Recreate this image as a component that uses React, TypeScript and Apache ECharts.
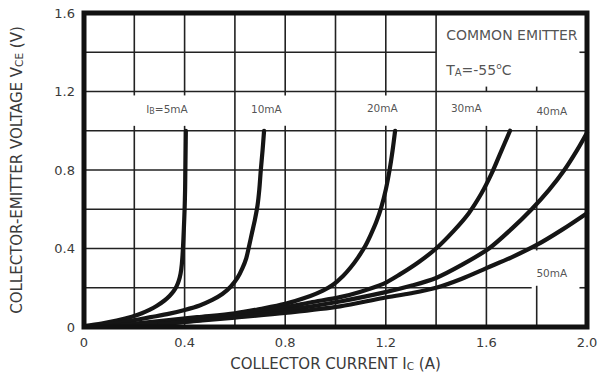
import React, { useEffect, useRef } from "react";
import * as echarts from "echarts";

// Collector current Ic (A) vs collector-emitter voltage Vce (V), one curve per base current
const curve5mA: [number, number][] = [
  [0, 0.005], [0.07, 0.018], [0.13, 0.033], [0.19, 0.052], [0.23, 0.07], [0.26, 0.087],
  [0.29, 0.108], [0.32, 0.135], [0.34, 0.158], [0.356, 0.182], [0.368, 0.207], [0.377, 0.236],
  [0.384, 0.272], [0.389, 0.32], [0.393, 0.39], [0.397, 0.5], [0.4, 0.6], [0.402, 0.7],
  [0.403, 0.8], [0.404, 0.9], [0.405, 1.0],
];
const curve10mA: [number, number][] = [
  [0.03, 0.003], [0.1, 0.015], [0.18, 0.03], [0.265, 0.05], [0.34, 0.068], [0.4, 0.087],
  [0.46, 0.11], [0.51, 0.138], [0.55, 0.168], [0.583, 0.205], [0.61, 0.25], [0.63, 0.3],
  [0.645, 0.35], [0.656, 0.41], [0.668, 0.48], [0.68, 0.55], [0.69, 0.62], [0.697, 0.7],
  [0.703, 0.8], [0.71, 0.9], [0.716, 1.0],
];
const curve20mA: [number, number][] = [
  [0.1, 0.004], [0.3, 0.03], [0.45, 0.05], [0.6, 0.07], [0.7, 0.092], [0.8, 0.118],
  [0.9, 0.158], [0.95, 0.185], [0.99, 0.215], [1.03, 0.26], [1.06, 0.303], [1.09, 0.355],
  [1.117, 0.41], [1.14, 0.47], [1.162, 0.535], [1.182, 0.61], [1.2, 0.7], [1.215, 0.8],
  [1.227, 0.9], [1.237, 1.0],
];
const curve30mA: [number, number][] = [
  [0.2, 0.008], [0.4, 0.035], [0.6, 0.065], [0.8, 0.1], [0.9, 0.125], [1.018, 0.152],
  [1.1, 0.18], [1.19, 0.22], [1.256, 0.268], [1.33, 0.33], [1.4, 0.4], [1.47, 0.49],
  [1.53, 0.58], [1.58, 0.68], [1.62, 0.78], [1.657, 0.89], [1.694, 1.0],
];
const curve40mA: [number, number][] = [
  [0.3, 0.012], [0.6, 0.055], [0.8, 0.085], [1.018, 0.13], [1.19, 0.175], [1.3, 0.21],
  [1.4, 0.25], [1.5, 0.315], [1.61, 0.4], [1.7, 0.5], [1.78, 0.6], [1.85, 0.7],
  [1.91, 0.8], [1.96, 0.9], [2.0, 0.99],
];
const curve50mA: [number, number][] = [
  [0.3, 0.015], [0.6, 0.048], [0.8, 0.072], [1.018, 0.105], [1.19, 0.148], [1.3, 0.172],
  [1.4, 0.2], [1.5, 0.245], [1.6, 0.3], [1.7, 0.355], [1.8, 0.418], [1.9, 0.495],
  [2.0, 0.58],
];

// Curve labels: [Ic, Vce, base-current text]
const curveLabels: [number, number, string][] = [
  [0.33, 1.11, "{t|I}{s|B}{t|=5mA}"],
  [0.725, 1.11, "{t|10mA}"],
  [1.186, 1.115, "{t|20mA}"],
  [1.52, 1.115, "{t|30mA}"],
  [1.86, 1.1, "{t|40mA}"],
  [1.86, 0.275, "{t|50mA}"],
];

// Condition notes in the upper right box
const noteLabels: [number, number, string][] = [
  [1.44, 1.488, "{n|COMMON EMITTER}"],
  [1.44, 1.31, "{n|T}{ns|A}{n|=-55}{sup|o}{n|C}"],
];

// Grid segments, broken where the labels sit
const verticalGrid: [number, number, number][] = [
  [0.2, 0, 1.025], [0.2, 1.18, 1.6],
  [0.4, 0, 1.025], [0.4, 1.18, 1.6],
  [0.6, 0, 1.6],
  [0.8, 0, 1.025], [0.8, 1.18, 1.6],
  [1.0, 0, 1.6],
  [1.2, 0, 1.025], [1.2, 1.18, 1.6],
  [1.4, 0, 1.6],
  [1.6, 0, 1.025], [1.6, 1.2, 1.225],
  [1.8, 0, 0.21], [1.8, 0.39, 1.025], [1.8, 1.2, 1.225],
];
const horizontalGrid: [number, number, number][] = [
  [0.2, 0, 1.78], [0.2, 1.97, 2.0],
  [0.4, 0, 2.0],
  [0.6, 0, 2.0],
  [0.8, 0, 2.0],
  [1.0, 0, 2.0],
  [1.2, 0, 2.0],
  [1.4, 0, 1.4], [1.4, 1.97, 2.0],
];

const FONT = "'DejaVu Sans', 'Liberation Sans', Arial, sans-serif";
const TEXT = "#3a3a3a";
const INK = "#262626";

export default function App() {
  const ref = useRef<HTMLDivElement>(null);

  useEffect(() => {
    if (!ref.current) return;
    const chart = echarts.init(ref.current, undefined, { renderer: "svg" });

    const segments = [
      ...verticalGrid.map(([x, a, b]) => [x, a, x, b]),
      ...horizontalGrid.map(([y, a, b]) => [a, y, b, y]),
    ];

    const curves = [curve5mA, curve10mA, curve20mA, curve30mA, curve40mA, curve50mA];

    const labelRich = {
      t: { fontSize: 10.5, fontFamily: FONT, color: INK },
      s: { fontSize: 8, fontFamily: FONT, color: INK, padding: [4, 0, 0, 0] },
    };
    const noteRich = {
      n: { fontSize: 14, fontFamily: FONT, color: INK },
      ns: { fontSize: 10, fontFamily: FONT, color: INK, padding: [5, 0, 0, 0] },
      sup: { fontSize: 9, fontFamily: FONT, color: INK, padding: [0, 0, 8, 0] },
    };
    const nameRich = {
      s: { fontSize: 10.5, fontFamily: FONT, color: TEXT, padding: [4, 0, 0, 0] },
    };

    chart.setOption({
      animation: false,
      backgroundColor: "#ffffff",
      grid: {
        left: 84,
        right: 11,
        top: 13,
        bottom: 45,
        outerBoundsMode: "none",
        containLabel: false,
        show: true,
        borderColor: "#111",
        borderWidth: 5,
        z: 10,
      },
      xAxis: {
        type: "value",
        min: 0,
        max: 2,
        interval: 0.4,
        axisLine: { show: false },
        axisTick: { show: false },
        splitLine: { show: false },
        axisLabel: {
          color: TEXT,
          fontSize: 13,
          fontFamily: FONT,
          margin: 9,
          formatter: (v: number) => (v === 0 ? "0" : v.toFixed(1)),
        },
        name: "COLLECTOR CURRENT I{s|C} (A)",
        nameLocation: "middle",
        nameGap: 29,
        nameTextStyle: { color: TEXT, fontSize: 15, fontFamily: FONT, rich: nameRich },
      },
      yAxis: {
        type: "value",
        min: 0,
        max: 1.6,
        interval: 0.4,
        axisLine: { show: false },
        axisTick: { show: false },
        splitLine: { show: false },
        axisLabel: {
          color: TEXT,
          fontSize: 13,
          fontFamily: FONT,
          margin: 9,
          formatter: (v: number) => (v === 0 ? "0" : v.toFixed(1)),
        },
        name: "COLLECTOR-EMITTER VOLTAGE V{s|CE} (V)",
        nameLocation: "middle",
        nameGap: 60,
        nameTextStyle: { color: TEXT, fontSize: 15, fontFamily: FONT, rich: nameRich },
      },
      series: [
        {
          type: "custom",
          z: 1,
          silent: true,
          data: segments,
          encode: { x: [0, 2], y: [1, 3] },
          renderItem: (_params: any, api: any) => {
            const p1 = api.coord([api.value(0), api.value(1)]);
            const p2 = api.coord([api.value(2), api.value(3)]);
            return {
              type: "line",
              shape: { x1: p1[0], y1: p1[1], x2: p2[0], y2: p2[1] },
              style: { stroke: "#222", lineWidth: 1.6 },
            };
          },
        },
        ...curves.map((c) => ({
          type: "line",
          z: 3,
          data: c,
          smooth: 0.3,
          symbol: "none",
          lineStyle: { color: "#151515", width: 4.2, cap: "round", join: "round" },
        })),
        {
          type: "scatter",
          z: 5,
          symbolSize: 0,
          data: curveLabels.map(([x, y, t]) => ({ value: [x, y], name: t })),
          label: {
            show: true,
            position: "inside",
            formatter: (p: any) => p.name,
            rich: labelRich,
          },
        },
        {
          type: "scatter",
          z: 5,
          symbolSize: 0,
          data: noteLabels.map(([x, y, t]) => ({ value: [x, y], name: t })),
          label: {
            show: true,
            position: "right",
            distance: 0,
            formatter: (p: any) => p.name,
            rich: noteRich,
          },
        },
      ],
    });

    return () => chart.dispose();
  }, []);

  return (
    <div
      ref={ref}
      style={{ position: "fixed", left: 0, top: 0, width: 598, height: 372, background: "#fff" }}
    />
  );
}
